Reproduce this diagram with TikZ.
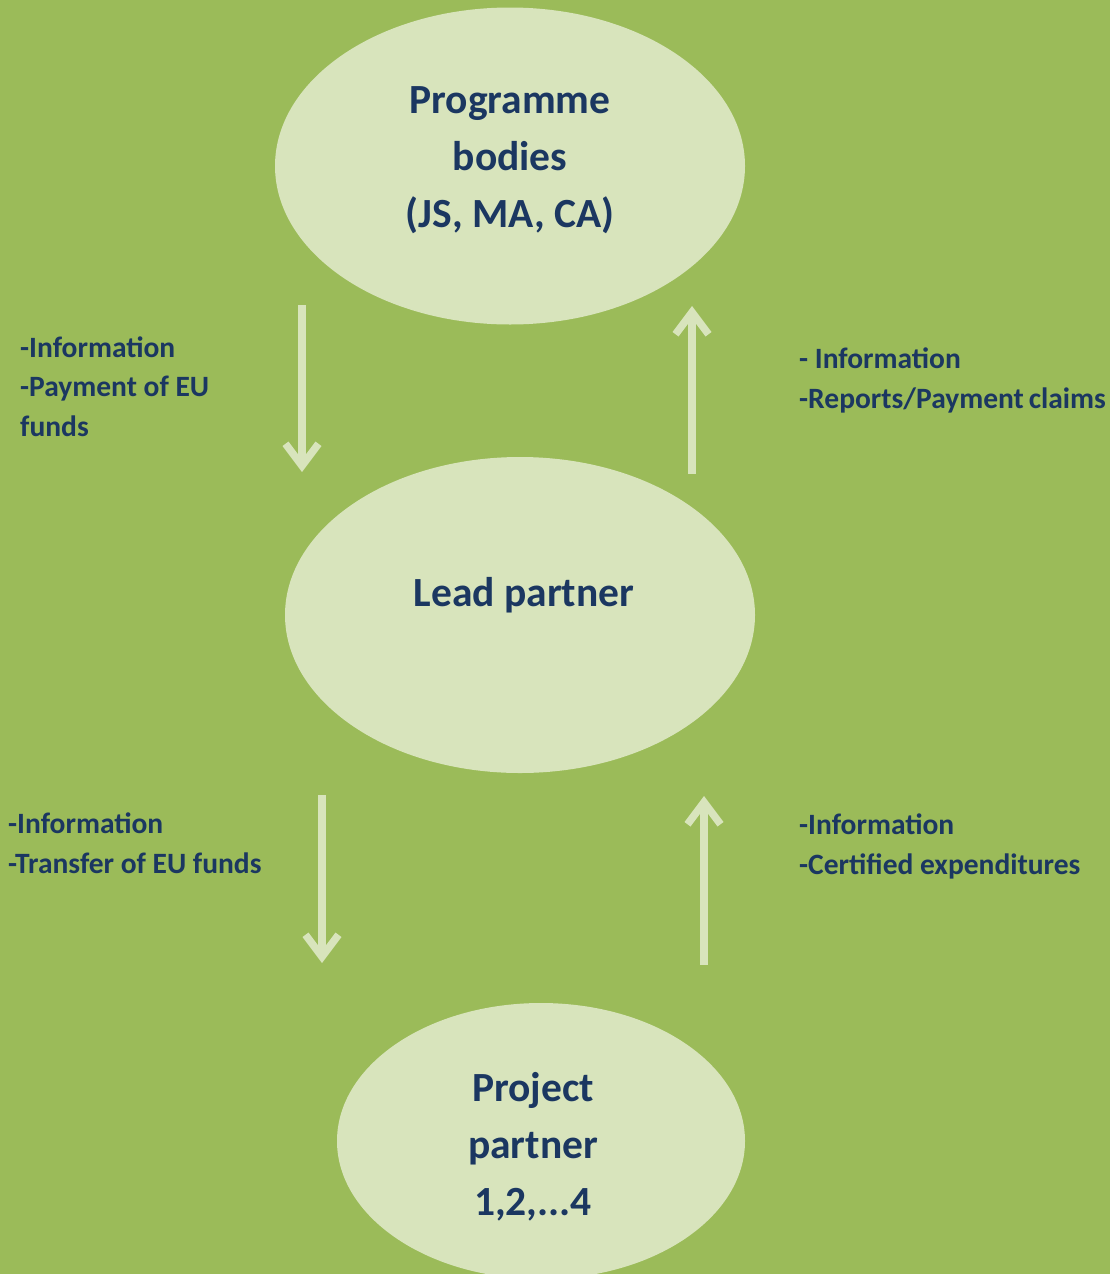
\documentclass[tikz,border=0pt]{standalone}
\usepackage{fontspec}
\setmainfont{Carlito}
\usetikzlibrary{shapes.geometric,arrows.meta}
\definecolor{bg}{HTML}{9BBB59}
\definecolor{pale}{HTML}{D8E4BC}
\definecolor{navy}{HTML}{1B3761}
\begin{document}
\begin{tikzpicture}[x=1pt,y=-1pt,
  blob/.style={ellipse,fill=pale,draw=none,inner sep=0pt},
  title/.style={text=navy,font=\bfseries\fontsize{41.5}{57}\selectfont,align=center,anchor=base,inner sep=0pt},
  lbl/.style={text=navy,font=\bfseries\fontsize{29.5}{39.5}\selectfont,align=left,anchor=base west,inner sep=0pt},
  flow/.style={draw=pale,line width=7.5pt,-{Straight Barb[length=22pt,width=33pt]}}]
\useasboundingbox (0,0) rectangle (1110,1274);
\fill[bg] (0,0) rectangle (1110,1274);
% ellipses
\node[blob,minimum width=470pt,minimum height=317pt] (pb) at (510,166) {};
\node[blob,minimum width=470pt,minimum height=316pt] (lp) at (520,615) {};
\begin{scope}
\clip (0,0) rectangle (1110,1274);
\node[blob,minimum width=408pt,minimum height=276pt] (pp) at (541,1141) {};
\end{scope}
% titles (base = baseline of last line)
\node[title] (pbt) at (510,227) {Programme\\bodies\\(JS, MA, CA)};
\node[title] (lpt) at (524,606) {Lead partner};
\node[title] (ppt) at (533,1215) {Project\\partner\\1,2,...4};
% arrows
\coordinate (a1s) at (302,305); \coordinate (a1e) at (302,472);
\coordinate (a2s) at (692,474); \coordinate (a2e) at (692,306);
\coordinate (a3s) at (322,795); \coordinate (a3e) at (322,963);
\coordinate (a4s) at (704,965); \coordinate (a4e) at (704,796);
\draw[flow] (a1s) -- (a1e);
\draw[flow] (a2s) -- (a2e);
\draw[flow] (a3s) -- (a3e);
\draw[flow] (a4s) -- (a4e);
% labels (base = baseline of last line)
\node[lbl] (l1) at (20,436) {-Information\\-Payment of EU\\funds};
\node[lbl] (l2) at (799,408) {- Information\\-Reports/Payment\,claims};
\node[lbl] (l3) at (8,873) {-Information\\-Transfer of EU funds};
\node[lbl] (l4) at (799,874) {-Information\\-Certified expenditures};
\end{tikzpicture}
\end{document}
